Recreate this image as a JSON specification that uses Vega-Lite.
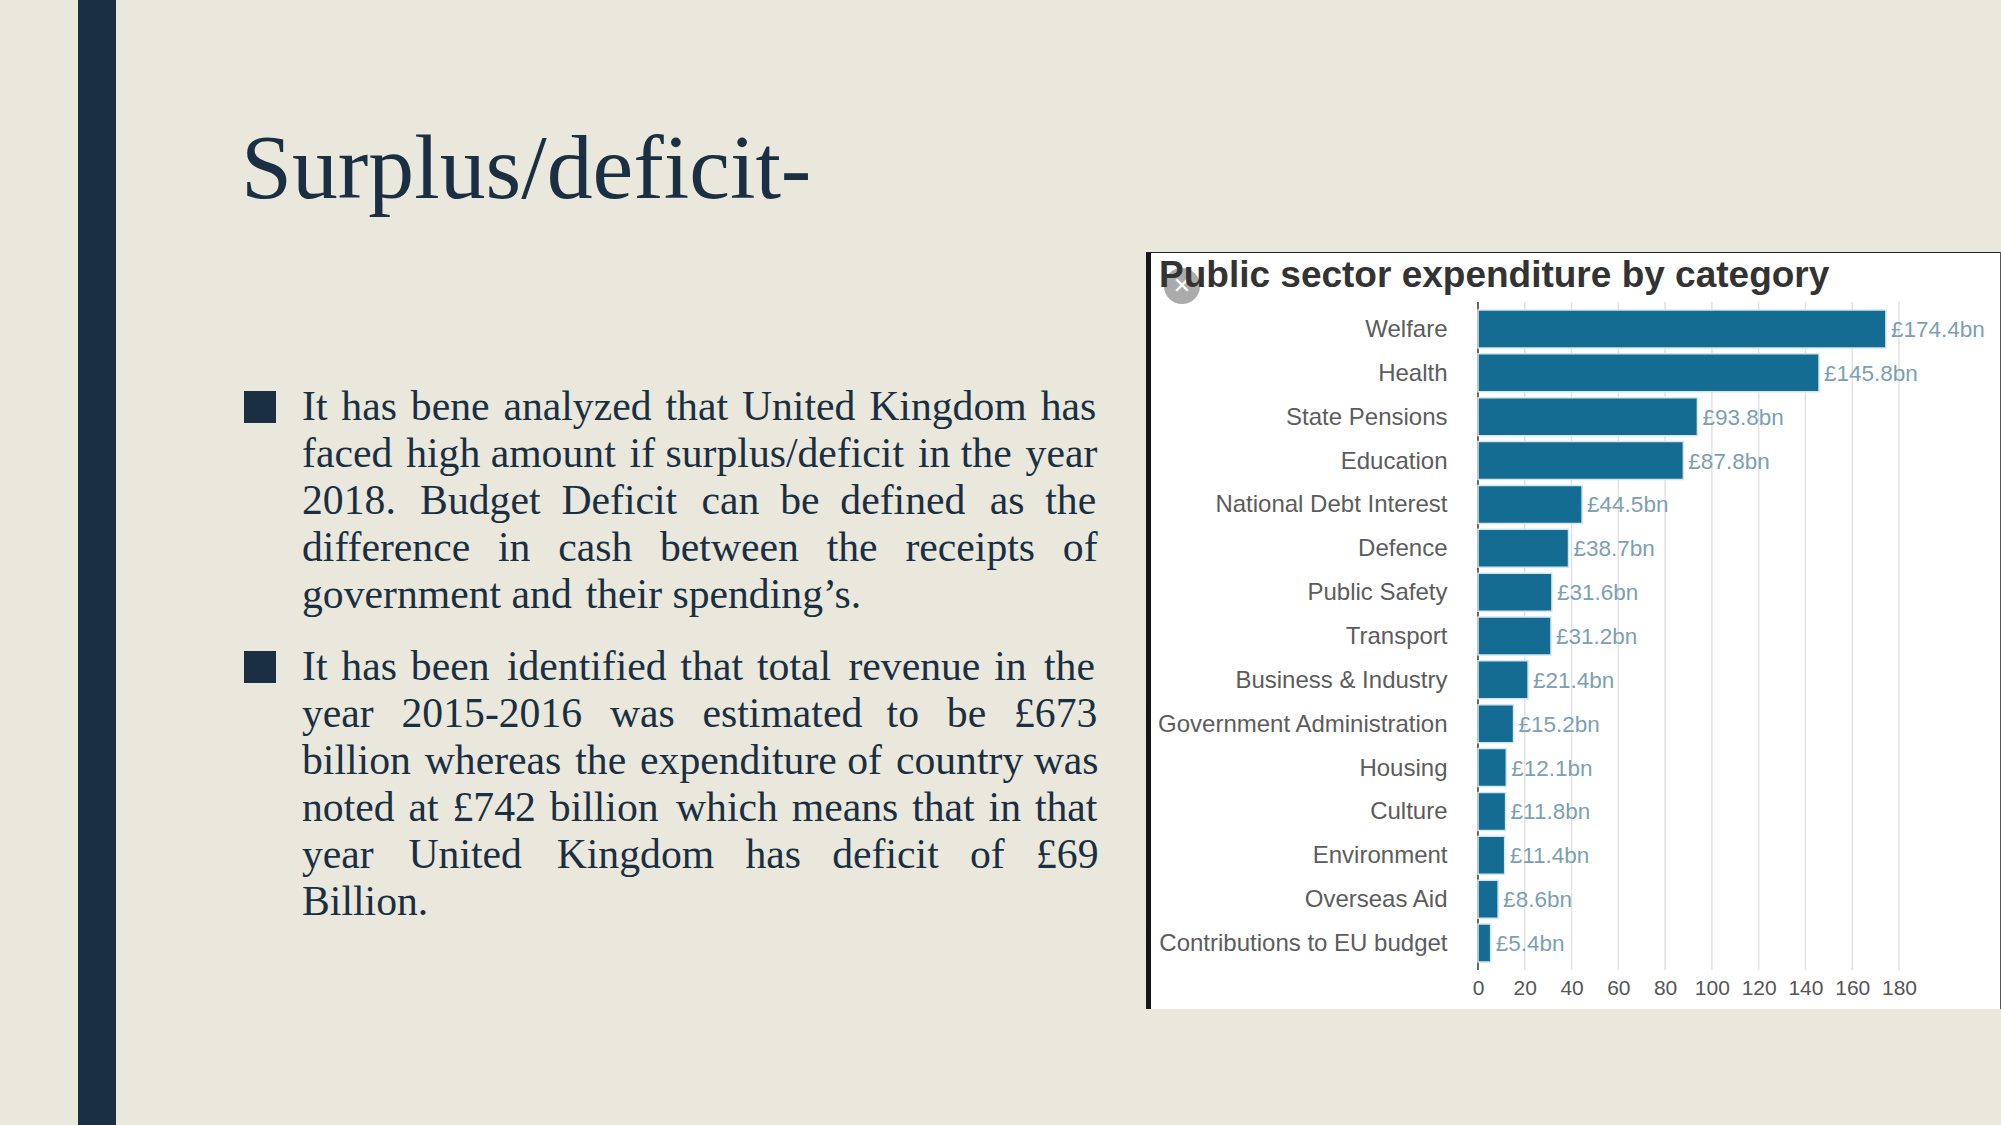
{
"$schema":"https://vega.github.io/schema/vega-lite/v6.json",
"width":2001,"height":1125,"padding":0,
"autosize":{"type":"fit","contains":"padding"},
"background":"#EAE8DD",
"config":{"view":{"stroke":null},"font":"Liberation Sans"},
"title":{"text":"Public sector expenditure by category","anchor":"start","frame":"group","dx":1159,"offset":-295,"fontSize":37,"fontWeight":"bold","font":"Liberation Sans","color":"#333333"},
"layer":[
{"data":{"values":[{}]},"mark":{"type":"rect","x":78,"x2":116,"y":0,"y2":1125,"fill":"#1B2F42"},"encoding":{}},
{"data":{"values":[{}]},"mark":{"type":"rect","x":1146,"x2":2001,"y":252,"y2":1009,"fill":"#FFFFFF"},"encoding":{}},
{"data":{"values":[{}]},"mark":{"type":"rect","x":1146,"x2":1151,"y":252,"y2":1009,"fill":"#151515"},"encoding":{}},
{"data":{"values":[{}]},"mark":{"type":"rect","x":1146,"x2":2001,"y":252,"y2":253,"fill":"#222222"},"encoding":{}},
{"data":{"values":[{}]},"mark":{"type":"rect","x":2000,"x2":2001,"y":252,"y2":1009,"fill":"#555555"},"encoding":{}},
{"data":{"values":[{}]},"mark":{"type":"rect","x":244,"x2":276,"y":391,"y2":423,"fill":"#1B2F42"},"encoding":{}},
{"data":{"values":[{}]},"mark":{"type":"rect","x":244,"x2":276,"y":651,"y2":683,"fill":"#1B2F42"},"encoding":{}},
{"data":{"values":[{}]},"mark":{"type":"text","x":241,"y":198,"align":"left","baseline":"alphabetic","font":"Liberation Serif","fontSize":91.7,"fill":"#1B2F42","text":"Surplus/deficit-"},"encoding":{}},
{"data":{"values":[{}]},"mark":{"type":"text","x":302,"y":420,"align":"left","baseline":"alphabetic","font":"Liberation Serif","fontSize":41.7,"lineHeight":47,"fill":"#1B2F42","text":[
"It\u2004has\u2004bene\u2004analyzed\u2004that\u2004United\u2004Kingdom\u2004has",
"faced\u2004high amount\u2004if surplus/deficit\u2004in the\u2004year",
"2018. \u2004Budget \u2005Deficit \u2004can \u2005be \u2005defined \u2004as \u2005the",
"difference \u2005\u2006in \u2005\u2006cash \u2005\u2006between \u2005\u2006the \u2005\u2006receipts \u2005\u2006of",
"government and\u2004their spending’s."]},"encoding":{}},
{"data":{"values":[{}]},"mark":{"type":"text","x":302,"y":680,"align":"left","baseline":"alphabetic","font":"Liberation Serif","fontSize":41.7,"lineHeight":47,"fill":"#1B2F42","text":[
"It\u2004has\u2004been \u2006identified\u2004that\u2004total \u2006revenue\u2004in \u2006the",
"year \u2005\u20062015-2016 \u2005\u2006was \u2005\u2006estimated \u2004to \u2005\u2006be \u2005\u2006£673",
"billion\u2004whereas\u2004the\u2004expenditure of\u2004country was",
"noted\u2004at\u2004£742\u2004billion \u2006which\u2004means\u2004that\u2004in\u2004that",
"year\u2004\u2002United\u2004\u2002Kingdom \u2002has \u2002deficit \u2002of \u2002£69",
"Billion."]},"encoding":{}},
{"data":{"values":[{"tick":0},{"tick":20},{"tick":40},{"tick":60},{"tick":80},{"tick":100},{"tick":120},{"tick":140},{"tick":160},{"tick":180}]},
 "mark":{"type":"rule","strokeWidth":1.5},
 "encoding":{"x":{"field":"tick","type":"quantitative","scale":{"domain":[0,180],"range":[1478,1899],"nice":false},
   "axis":{"orient":"bottom","offset":-155,"zindex":1,"values":[0,20,40,60,80,100,120,140,160,180],"title":null,"grid":false,"ticks":false,"domain":false,"labelFontSize":21,"labelColor":"#555555","labelPadding":7,"labelFont":"Liberation Sans","labelOverlap":false,"labelFlush":false,"labelBound":false}},
  "y":{"value":302},"y2":{"value":970},
  "color":{"condition":{"test":"datum.tick===0","value":"#333333"},"value":"#E2E2E2"}}},
{"data":{"name":"spend","values":[
{"category":"Welfare","value":174.4,"label":"£174.4bn"},
{"category":"Health","value":145.8,"label":"£145.8bn"},
{"category":"State Pensions","value":93.8,"label":"£93.8bn"},
{"category":"Education","value":87.8,"label":"£87.8bn"},
{"category":"National Debt Interest","value":44.5,"label":"£44.5bn"},
{"category":"Defence","value":38.7,"label":"£38.7bn"},
{"category":"Public Safety","value":31.6,"label":"£31.6bn"},
{"category":"Transport","value":31.2,"label":"£31.2bn"},
{"category":"Business & Industry","value":21.4,"label":"£21.4bn"},
{"category":"Government Administration","value":15.2,"label":"£15.2bn"},
{"category":"Housing","value":12.1,"label":"£12.1bn"},
{"category":"Culture","value":11.8,"label":"£11.8bn"},
{"category":"Environment","value":11.4,"label":"£11.4bn"},
{"category":"Overseas Aid","value":8.6,"label":"£8.6bn"},
{"category":"Contributions to EU budget","value":5.4,"label":"£5.4bn"}]},
 "layer":[
 {"mark":{"type":"bar","fill":"#156C92","stroke":"#D3E6F0","strokeWidth":1.5},
  "encoding":{"x":{"field":"value","type":"quantitative","scale":{"domain":[0,180],"range":[1478,1899],"nice":false},
   "axis":{"orient":"bottom","offset":-155,"zindex":1,"values":[0,20,40,60,80,100,120,140,160,180],"title":null,"grid":false,"ticks":false,"domain":false,"labelFontSize":21,"labelColor":"#555555","labelPadding":7,"labelFont":"Liberation Sans","labelOverlap":false,"labelFlush":false,"labelBound":false}},
   "y":{"field":"category","type":"nominal","sort":null,"scale":{"range":[307,965],"paddingInner":0.134,"paddingOuter":0.067},
    "axis":{"orient":"left","offset":-1478,"zindex":1,"title":null,"domain":false,"ticks":false,"grid":false,"labelPadding":31,"labelFontSize":24,"labelColor":"#5C5C5C","labelFont":"Liberation Sans","labelLimit":600,"labelOffset":1}}}},
 {"mark":{"type":"text","align":"left","baseline":"middle","dx":5,"dy":1,"fontSize":22.5,"fill":"#7C9FB3","font":"Liberation Sans"},
  "encoding":{"x":{"field":"value","type":"quantitative","scale":{"domain":[0,180],"range":[1478,1899],"nice":false}},
   "y":{"field":"category","type":"nominal","sort":null,"scale":{"range":[307,965],"paddingInner":0.134,"paddingOuter":0.067}},
   "text":{"field":"label","type":"nominal"}}}
 ]},
{"data":{"values":[{}]},"mark":{"type":"point","x":1182,"y":286,"size":1300,"filled":true,"fill":"#8F8F8F","opacity":0.75,"shape":"circle"},"encoding":{}},
{"data":{"values":[{}]},"mark":{"type":"text","x":1182,"y":286,"align":"center","baseline":"middle","font":"DejaVu Sans","fontSize":22,"fill":"#FFFFFF","text":"✕"},"encoding":{}}
]
}
